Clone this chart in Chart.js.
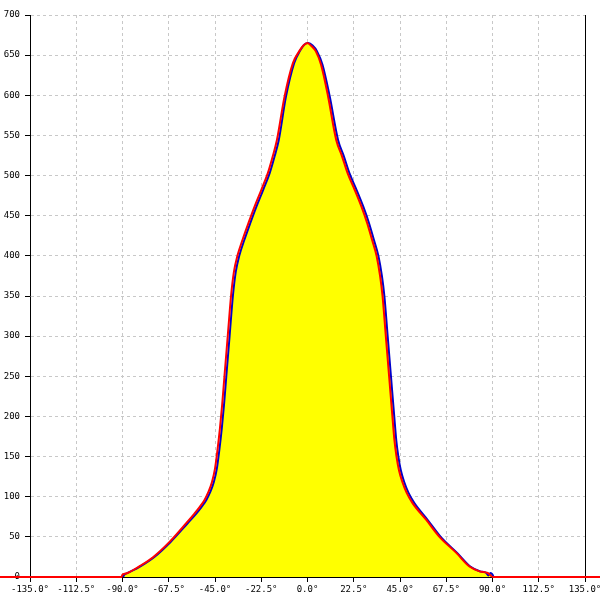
<!DOCTYPE html>
<html><head><meta charset="utf-8">
<script src="https://cdn.jsdelivr.net/npm/chart.js@4"></script>
<style>html,body{margin:0;padding:0;background:#fff}</style>
</head><body>
<canvas id="c" width="600" height="600"></canvas>
<script>
const xTicks = [-135,-112.5,-90,-67.5,-45,-22.5,0,22.5,45,67.5,90,112.5,135];
const yTicks = [0,50,100,150,200,250,300,350,400,450,500,550,600,650,700];

const redAngles = [-150,-90.5,-90,-89,-87.5,-82,-75,-67,-59,-55,-52.5,-50.1,-48.2,-46.5,-45,-43.8,-42.6,-41.5,-40.4,-38.8,-37.2,-35.8,-34.1,-31.6,-28.7,-25.8,-22.5,-19.3,-16.9,-14.9,-11.2,-7.1,-4,-2,0,2,4,6.6,9.9,14,16.8,19.5,23,26.3,29,31.4,33.6,35.3,36.5,38.1,39.7,41.3,42.3,43.3,44.5,46.2,48.2,51.1,57.8,64.2,72.4,78.8,83.7,87.7,90.2,150];
const redValues = [0,0,3,4,5,13,25,44,67,79,87,96,106,118,135,158,185,215,250,300,350,380,400,420,441,461,482,503,524,544,598,640,655,662,665,661,655,638,600,544,524,503,482,461,441,420,400,375,350,300,250,200,170,150,133,118,105,92,71,50,30,13,7,5,0,0];

const blueAngles = [-92,-90,-89,-87.5,-81.5,-74.5,-66.5,-58.3,-54.1,-51.6,-49.2,-47.3,-45.6,-44.1,-42.9,-41.7,-40.6,-39.5,-37.9,-36.3,-34.9,-33.2,-30.7,-27.8,-24.9,-21.6,-18.4,-16,-14,-10.5,-6.5,-3.5,-1.6,0.4,2.5,4.6,7.3,10.7,14.9,17.7,20.4,23.9,27.2,29.9,32.3,34.5,36.2,37.4,39,40.6,42.2,43.2,44.2,45.4,47.1,49.1,52,58.5,64.8,72.8,79.2,84,87,88,89,90,90.5];
const blueValues = [0,0,3,5,13,25,44,67,79,87,96,106,118,135,158,185,215,250,300,350,380,400,420,441,461,482,503,524,544,598,640,656,663,665,662,655,638,600,544,524,503,482,461,441,420,400,375,350,300,250,200,170,150,133,118,105,92,71,50,30,13,7,5,2,5,3,0];

const toPts = (xs, ys) => xs.map((x, i) => ({x: x, y: ys[i]}));
const FONT = {family: 'DejaVu Sans Mono', size: 9};

new Chart(document.getElementById('c'), {
  type: 'scatter',
  data: {
    datasets: [
      {
        data: toPts(redAngles, redValues),
        showLine: true, borderColor: '#ff0000', borderWidth: 2,
        pointRadius: 0, fill: false, cubicInterpolationMode: 'monotone', clip: false
      },
      {
        data: toPts(blueAngles, blueValues),
        showLine: true, borderColor: '#0000cc', borderWidth: 2,
        pointRadius: 0, fill: 'origin', backgroundColor: '#ffff00', cubicInterpolationMode: 'monotone'
      }
    ]
  },
  options: {
    responsive: false, animation: false,
    layout: {padding: {top: 15, left: 0, right: 0, bottom: 0}},
    plugins: {legend: {display: false}, tooltip: {enabled: false}},
    scales: {
      x: {
        type: 'linear', min: -135, max: 135,
        afterBuildTicks: s => { s.ticks = xTicks.map(v => ({value: v})); },
        afterFit: s => { s.height = 23; s.paddingLeft = 0; s.paddingRight = 0; },
        ticks: {color: '#000', font: FONT, padding: 2, maxRotation: 0, autoSkip: false,
          callback: v => Number(v).toFixed(1) + '°'},
        grid: {color: '#c8c8c8', tickColor: '#000', tickLength: 5, lineWidth: 1},
        border: {display: true, color: '#000', width: 1, dash: [3, 3]}
      },
      y: {
        type: 'linear', min: 0, max: 700,
        afterBuildTicks: s => { s.ticks = yTicks.map(v => ({value: v})); },
        afterFit: s => { s.width = 30; s.paddingTop = 0; s.paddingBottom = 0; },
        ticks: {color: '#000', font: FONT, padding: 5},
        grid: {color: '#c8c8c8', tickColor: '#000', tickLength: 5, lineWidth: 1},
        border: {display: true, color: '#000', width: 1, dash: [3, 3]}
      },
      y2: {
        type: 'linear', position: 'right', display: true, min: 0, max: 700,
        afterFit: s => { s.width = 15; },
        ticks: {display: false},
        grid: {display: false, drawTicks: false},
        border: {display: true, color: '#000', width: 1}
      }
    }
  }
});
</script>
</body></html>
